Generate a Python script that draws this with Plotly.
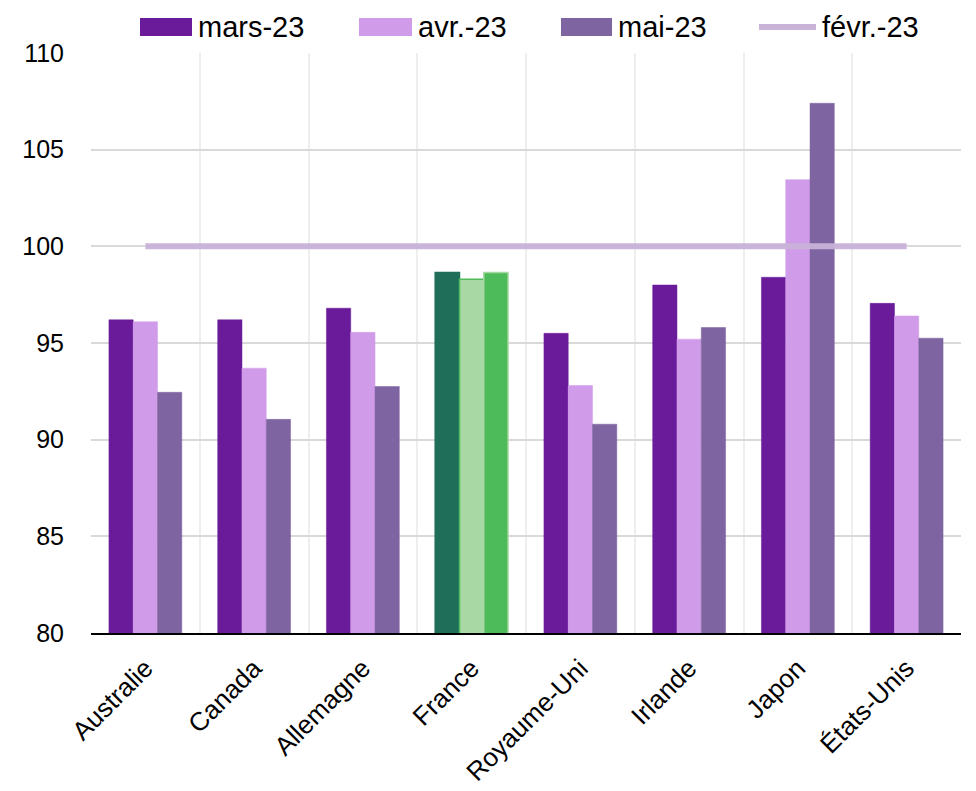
import plotly.graph_objects as go

categories = ["Australie", "Canada", "Allemagne", "France", "Royaume-Uni", "Irlande", "Japon", "États-Unis"]
mars_23 = [96.2, 96.2, 96.8, 98.65, 95.5, 98.0, 98.4, 97.05]
avr_23 = [96.1, 93.7, 95.55, 98.3, 92.8, 95.2, 103.45, 96.4]
mai_23 = [92.45, 91.05, 92.75, 98.65, 90.8, 95.8, 107.4, 95.25]
fevr_23 = [100, 100, 100, 100, 100, 100, 100, 100]
series_names = ["mars-23", "avr.-23", "mai-23", "févr.-23"]

C_MARS, C_AVR, C_MAI, C_FEVR = "#6A1B9A", "#D09CEA", "#7E64A0", "#C9B3D9"
F_MARS, F_AVR, F_MAI = "#1F6E5A", "#A8D8A4", "#4DBB5A"

def per_cat(base, france):
    return [france if c == "France" else base for c in categories]

fig = go.Figure()
bar_specs = [
    (mars_23, C_MARS, F_MARS, F_MARS),
    (avr_23, C_AVR, F_AVR, F_MAI),
    (mai_23, C_MAI, F_MAI, F_AVR),
]
for name, (vals, base, fr, frline) in zip(series_names[:3], bar_specs):
    fig.add_trace(go.Bar(
        x=categories, y=vals, name=name, showlegend=False,
        marker=dict(color=per_cat(base, fr),
                    line=dict(color=per_cat(base, frline),
                              width=[1.5 if c == "France" else 0.5 for c in categories])),
    ))
fig.add_trace(go.Scatter(
    x=categories, y=fevr_23, name=series_names[3], mode="lines", showlegend=False,
    line=dict(color=C_FEVR, width=6), opacity=0.95,
))

# page offset (body margin of the html page)
OFF = 8
W, H = 976, 791
L, T = 91 - OFF, 53 - OFF
R = W - (961 - OFF)
B = H - (633 - OFF)
pw, ph = W - L - R, H - T - B

def px(x):
    return (x - OFF - L) / pw

def py(y):
    return (H - B - (y - OFF)) / ph

shapes = []
annotations = []
legend_items = [
    ("rect", C_MARS, 140, 192, series_names[0]),
    ("rect", C_AVR, 359, 412, series_names[1]),
    ("rect", C_MAI, 561, 612, series_names[2]),
    ("line", C_FEVR, 759, 816, series_names[3]),
]
for kind, col, x0, x1, label in legend_items:
    if kind == "rect":
        shapes.append(dict(type="rect", xref="paper", yref="paper",
                           x0=px(x0), x1=px(x1), y0=py(36), y1=py(18),
                           fillcolor=col, line=dict(width=0)))
    else:
        shapes.append(dict(type="line", xref="paper", yref="paper",
                           x0=px(x0), x1=px(x1), y0=py(27), y1=py(27),
                           line=dict(color=col, width=6)))
    annotations.append(dict(xref="paper", yref="paper", x=px(x1 + 4), y=py(27),
                            xanchor="left", yanchor="middle", showarrow=False,
                            text=label,
                            font=dict(family="Liberation Sans, Arial, sans-serif",
                                      size=29, color="#000000")))

fig.update_layout(
    width=W, height=H,
    margin=dict(l=L, r=R, t=T, b=B, autoexpand=False),
    paper_bgcolor="white", plot_bgcolor="white",
    barmode="group", bargap=0.33, bargroupgap=0,
    shapes=shapes, annotations=annotations,
    font=dict(family="Liberation Sans, Arial, sans-serif", color="#000000"),
)
fig.update_xaxes(
    tickangle=-45, tickson="boundaries", showgrid=True, gridcolor="#EEEEEE", gridwidth=1.5,
    showline=True, linecolor="#000000", linewidth=1.5, ticks="",
    tickfont=dict(size=26), automargin=False, ticklabelstandoff=8,
)
fig.update_yaxes(
    range=[80, 110], dtick=5, showgrid=True, gridcolor="#D9D9D9", gridwidth=2,
    zeroline=False, showline=False, ticks="", tickfont=dict(size=25),
    ticklabelstandoff=26, automargin=False,
)

fig.write_html("out.html")
